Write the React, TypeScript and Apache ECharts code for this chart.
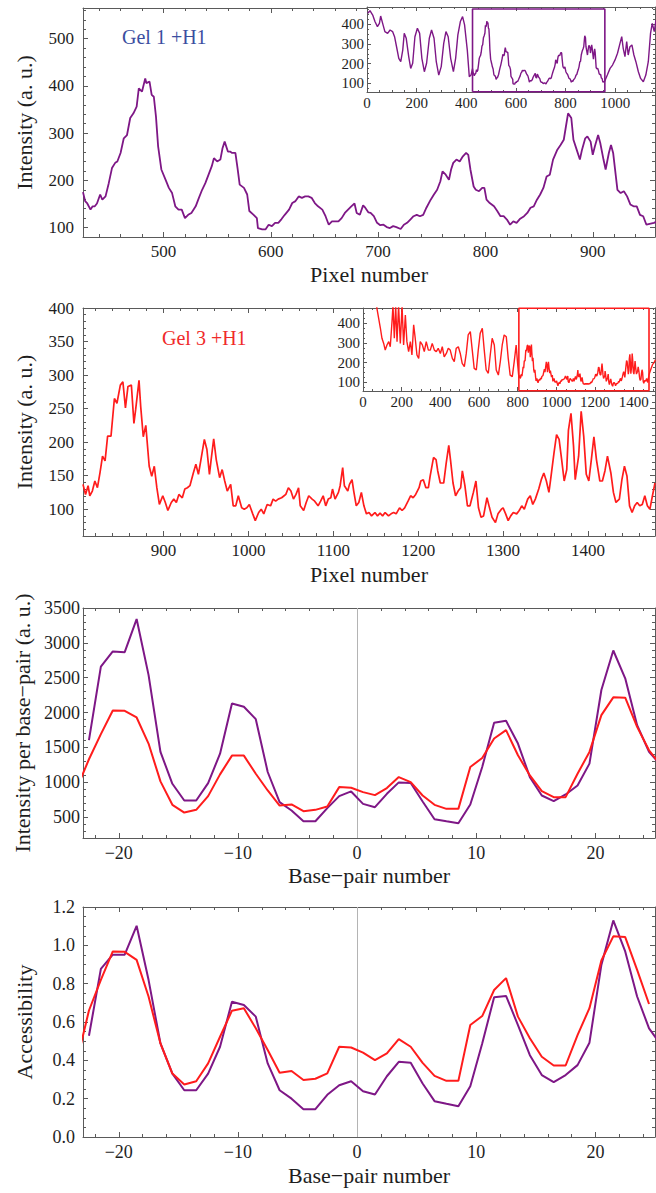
import React, { useEffect, useRef } from "react";
import * as echarts from "echarts";

const PURPLE = "#7e1786";
const RED = "#ff1c1c";
const FRAME = "#5a5a5a";
const TEXT = "#1e1e1e";
const SERIF = '"Liberation Serif", "Times New Roman", serif';

// ---- Gel 1 (+H1) trace, main window (pixel number, intensity) ----
const gel1Main: [number, number][] = [
  [425,175],[427,156],[429,151],[432,138],[434,145],[436,145],[438,151],[441,170],[443,159],[446,166],
  [449,194],[452,226],[455,237],[457,240],[460,258],[463,289],[466,296],[469,332],[472,342],[475,356],
  [477,395],[480,388],[483,416],[484,406],[487,409],[489,381],[491,377],[493,335],[495,272],[498,223],
  [502,201],[505,184],[508,173],[511,145],[514,138],[517,138],[520,120],[523,127],[526,131],[530,145],
  [533,163],[536,180],[539,194],[542,212],[545,230],[547,247],[550,240],[553,244],[555,268],[557,282],
  [560,261],[562,261],[564,258],[567,258],[569,226],[571,191],[575,184],[578,170],[580,135],[584,127],
  [587,120],[588,99],[592,96],[595,96],[598,106],[601,103],[604,110],[607,110],[610,118],[613,127],
  [617,138],[620,152],[623,156],[626,166],[629,163],[632,166],[635,166],[638,163],[641,152],[644,145],
  [648,138],[651,124],[654,106],[657,113],[660,113],[663,113],[666,120],[669,131],[672,138],[675,145],
  [678,151],[680,131],[683,127],[686,147],[688,142],[691,132],[693,131],[696,124],[699,110],[702,105],
  [705,106],[708,101],[711,99],[714,103],[717,101],[721,97],[724,106],[727,110],[730,117],[733,124],
  [736,127],[739,124],[742,127],[745,142],[749,159],[752,170],[755,180],[758,198],[760,219],[763,212],
  [766,201],[768,223],[770,237],[773,244],[776,240],[779,251],[782,258],[784,254],[786,223],[789,187],
  [791,180],[794,177],[797,184],[799,184],[801,159],[804,152],[808,145],[811,135],[814,124],[817,124],
  [820,117],[823,106],[826,113],[829,110],[832,118],[836,124],[839,131],[842,142],[845,145],[848,159],
  [851,170],[854,184],[857,208],[860,212],[863,244],[867,265],[870,275],[873,286],[875,314],[877,342],
  [880,332],[882,286],[885,265],[888,244],[890,265],[893,289],[895,293],[898,282],[900,254],[902,272],
  [905,296],[907,279],[910,244],[912,223],[915,258],[917,275],[919,258],[923,180],[926,173],[929,177],
  [932,166],[935,149],[938,145],[941,145],[944,127],[947,124],[950,106],[953,108],[957,110],[959,112],
];
// Gel 1 inset: full trace outside the main window
const gel1InsetLeft: [number, number][] = [
  [3,456],[12,469],[23,447],[32,414],[42,388],[50,405],[55,442],[63,405],[72,363],[83,354],
  [93,371],[103,363],[111,337],[119,286],[128,227],[136,210],[144,269],[150,354],[158,329],[168,236],
  [176,176],[184,202],[193,337],[203,380],[212,354],[221,227],[231,159],[240,202],[251,329],[260,371],
  [270,329],[279,210],[289,142],[299,185],[309,303],[318,363],[327,337],[337,227],[348,159],[357,227],
  [366,346],[376,414],[385,439],[393,397],[404,269],[412,134],[419,142],
];
const gel1InsetRight: [number, number][] = [
  [968,142],[979,176],[989,193],[999,219],[1009,253],[1019,303],[1026,337],[1032,278],[1039,236],
  [1046,312],[1052,244],[1059,286],[1067,295],[1075,244],[1083,210],[1093,159],[1102,125],[1113,108],
  [1123,142],[1133,210],[1142,354],[1149,405],[1157,363],[1164,422],
];

// ---- Gel 3 (+H1) trace, main window ----
const gel3Main: [number, number][] = [
  [805,137],[808,122],[811,135],[813,120],[816,127],[819,142],[822,132],[825,154],[828,179],[831,172],
  [834,209],[838,209],[842,265],[845,258],[849,285],[852,290],[855,251],[858,283],[862,285],[865,228],
  [867,248],[871,292],[873,253],[876,208],[879,225],[883,164],[886,149],[889,164],[892,132],[895,107],
  [899,120],[902,110],[905,98],[909,110],[912,115],[915,110],[918,122],[922,117],[925,130],[928,132],
  [931,135],[935,154],[938,167],[941,152],[944,174],[948,204],[951,189],[954,152],[956,174],[959,205],
  [962,174],[966,147],[969,159],[972,142],[975,127],[979,137],[982,105],[985,105],[988,120],[992,102],
  [995,100],[998,102],[1001,107],[1005,93],[1008,83],[1012,95],[1015,100],[1018,93],[1022,107],[1026,105],
  [1029,115],[1032,112],[1035,115],[1039,117],[1042,120],[1044,122],[1047,132],[1050,127],[1053,115],[1056,122],
  [1059,132],[1061,105],[1065,98],[1068,110],[1071,120],[1075,115],[1078,112],[1082,105],[1085,112],[1088,120],
  [1091,105],[1094,115],[1097,117],[1099,130],[1102,115],[1106,125],[1108,135],[1111,162],[1113,135],[1117,127],
  [1119,137],[1122,144],[1124,127],[1127,105],[1130,110],[1133,125],[1136,105],[1139,93],[1142,95],[1145,90],
  [1149,95],[1152,90],[1155,94],[1158,90],[1161,95],[1165,90],[1168,93],[1171,95],[1174,93],[1178,102],
  [1181,98],[1184,102],[1188,112],[1191,120],[1194,117],[1197,122],[1201,132],[1203,142],[1206,144],[1209,132],
  [1212,132],[1214,149],[1218,177],[1221,174],[1223,157],[1226,139],[1230,139],[1233,169],[1236,195],[1238,174],
  [1241,139],[1244,120],[1247,127],[1250,132],[1252,157],[1255,135],[1258,105],[1261,105],[1265,125],[1268,142],
  [1271,102],[1274,88],[1277,90],[1281,117],[1284,102],[1287,88],[1291,80],[1294,93],[1298,100],[1300,102],
  [1303,93],[1306,83],[1309,90],[1312,95],[1316,93],[1319,98],[1322,105],[1325,100],[1329,115],[1332,120],
  [1335,107],[1338,115],[1342,130],[1345,144],[1348,154],[1351,142],[1354,125],[1356,144],[1360,184],[1363,211],
  [1366,204],[1369,174],[1372,142],[1375,159],[1377,218],[1380,243],[1383,194],[1385,144],[1389,179],[1392,246],
  [1395,209],[1398,152],[1401,142],[1404,174],[1407,208],[1410,174],[1414,142],[1417,142],[1420,157],[1423,179],
  [1427,154],[1430,125],[1433,110],[1437,115],[1440,144],[1443,164],[1446,149],[1449,105],[1452,95],[1455,105],
  [1458,110],[1461,105],[1464,107],[1467,120],[1470,105],[1473,100],[1476,120],[1479,139],
];
const gel3InsetLeft: [number, number][] = [
  [70,500],[72,476],[81,425],[90,375],[98,324],[107,298],[115,264],[124,290],[133,307],[141,281],
  [150,408],[155,490],[162,324],[169,490],[176,307],[184,490],[193,298],[202,490],[210,290],[219,442],
  [227,307],[236,256],[245,307],[253,239],[262,392],[270,324],[279,239],[288,222],[296,307],[307,290],
  [317,256],[327,307],[338,264],[348,264],[358,298],[369,264],[379,256],[389,273],[400,247],[410,281],
  [420,230],[431,247],[441,273],[451,264],[462,222],[472,205],[482,273],[493,281],[503,247],[513,197],
  [524,180],[534,247],[544,341],[555,358],[565,264],[575,171],[586,163],[596,264],[606,349],[617,375],
  [627,264],[637,163],[648,146],[658,239],[668,324],[679,290],[689,163],[700,137],[710,205],[720,290],
  [730,341],[741,332],[751,222],[761,137],[772,129],[782,205],[792,290],[800,190],
];
const gel3InsetRight: [number, number][] = [[1488,165],[1497,190],[1505,200],[1512,215]];

// ---- per base-pair data ----
const basePairs = [
  -23.5,-22.5,-21.5,-20.5,-19.5,-18.5,-17.5,-16.5,-15.5,-14.5,-13.5,-12.5,-11.5,-10.5,-9.5,-8.5,-7.5,
  -6.5,-5.5,-4.5,-3.5,-2.5,-1.5,-0.5,0.5,1.5,2.5,3.5,4.5,5.5,6.5,7.5,8.5,9.5,10.5,11.5,12.5,13.5,14.5,
  15.5,16.5,17.5,18.5,19.5,20.5,21.5,22.5,23.5,24.5,25.5,
];
const intensityGel1: (number | null)[] = [
  null,1603,2660,2876,2866,3341,2540,1435,978,738,738,988,1410,2131,2083,1905,1147,
  714,594,440,440,628,801,868,690,642,834,998,988,724,469,440,412,681,1219,1853,1881,1555,1074,
  810,729,825,954,1267,2323,2890,2491,1819,1435,1245,
];
const intensityGel3: (number | null)[] = [
  920,1330,1690,2030,2025,1929,1555,1012,676,565,604,801,1113,1382,1382,1122,882,
  666,681,585,604,652,930,921,858,815,916,1074,1002,810,676,618,618,1219,1348,1627,1747,1387,1098,
  872,786,786,1122,1435,1963,2218,2213,1795,1459,1240,
];
const accessGel1: (number | null)[] = [
  null,0.528,0.877,0.951,0.951,1.102,0.82,0.488,0.331,0.244,0.244,0.331,0.471,0.706,0.689,0.628,0.384,
  0.244,0.2,0.145,0.145,0.22,0.27,0.291,0.239,0.222,0.317,0.392,0.387,0.279,0.187,0.173,0.16,0.265,0.488,0.729,0.736,0.584,0.427,
  0.323,0.286,0.323,0.375,0.492,0.898,1.13,0.968,0.733,0.567,0.48,
];
const accessGel3: (number | null)[] = [
  0.4,0.66,0.82,0.968,0.966,0.924,0.733,0.488,0.331,0.274,0.291,0.384,0.523,0.659,0.672,0.567,0.454,
  0.335,0.344,0.297,0.304,0.332,0.471,0.467,0.44,0.401,0.436,0.511,0.471,0.387,0.319,0.293,0.293,0.584,0.631,0.767,0.829,0.628,0.515,
  0.419,0.373,0.373,0.532,0.672,0.921,1.047,1.043,0.872,0.694,null,
];

// ---- tick labels ----
const ticksPixel1 = [500, 600, 700, 800, 900];
const ticksInt1 = [100, 200, 300, 400, 500];
const ticksPixel3 = [900, 1000, 1100, 1200, 1300, 1400];
const ticksInt3 = [100, 150, 200, 250, 300, 350, 400];
const ticksBp = [-20, -10, 0, 10, 20];
const ticksIntBp = [500, 1000, 1500, 2000, 2500, 3000, 3500];
const ticksAccess = [0, 0.2, 0.4, 0.6, 0.8, 1.0, 1.2];
const ticksInset1X = [0, 200, 400, 600, 800, 1000];
const ticksInset3X = [0, 200, 400, 600, 800, 1000, 1200, 1400];
const ticksInsetY = [100, 200, 300, 400];

function minorTicks(min: number, max: number, step: number, major: number[]): number[] {
  const out: number[] = [];
  const start = Math.ceil(min / step - 1e-9);
  const end = Math.floor(max / step + 1e-9);
  for (let k = start; k <= end; k++) {
    const v = Math.round(k * step * 1e6) / 1e6;
    if (!major.some((m) => Math.abs(m - v) < 1e-9)) out.push(v);
  }
  return out;
}

const minus = (v: number) => (v < 0 ? "\u2212" + Math.abs(v) : String(v));

type Spec = {
  grid: number;
  min: number;
  max: number;
  major: number[];
  minorStep: number;
  fmt?: (v: number) => string;
  name?: string;
  nameGap?: number;
  labelSize: number;
  labelMargin: number;
  majorLen: number;
  minorLen: number;
  z: number;
};

function makeAxes(dim: "x" | "y", s: Spec) {
  const sides = dim === "x" ? ["bottom", "top"] : ["left", "right"];
  const minor = minorTicks(s.min, s.max, s.minorStep, s.major);
  const build = (position: string, ticks: number[], len: number, line: boolean, label: boolean) => ({
    type: "value",
    gridIndex: s.grid,
    position,
    min: s.min,
    max: s.max,
    z: s.z,
    axisLine: { show: line, onZero: false, lineStyle: { color: FRAME, width: 1 } },
    axisTick: { show: true, inside: true, length: len, customValues: ticks, lineStyle: { color: FRAME, width: 1 } },
    axisLabel: label
      ? {
          show: true,
          customValues: s.major,
          formatter: s.fmt ? (v: number) => s.fmt!(v) : (v: number) => String(v),
          color: TEXT,
          fontFamily: SERIF,
          fontSize: s.labelSize,
          margin: s.labelMargin,
        }
      : { show: false },
    splitLine: { show: false },
    minorTick: { show: false },
    axisPointer: { show: false },
    name: label ? s.name : "",
    nameLocation: "middle",
    nameGap: s.nameGap ?? 20,
    nameTextStyle: { color: TEXT, fontFamily: SERIF, fontSize: 22 },
  });
  return [
    build(sides[0], s.major, s.majorLen, true, true),
    build(sides[0], minor, s.minorLen, false, false),
    build(sides[1], s.major, s.majorLen, true, false),
    build(sides[1], minor, s.minorLen, false, false),
  ];
}

const toPairs = (xs: number[], ys: (number | null)[]) =>
  xs.map((x, i) => [x, ys[i] === null ? "-" : ys[i]]);

export default function App() {
  const ref = useRef<HTMLDivElement>(null);
  useEffect(() => {
    if (!ref.current) return;
    const chart = echarts.init(ref.current, undefined, { renderer: "svg" });

    const grids = [
      { left: 83, top: 8, width: 572, height: 229 },
      { left: 83, top: 308, width: 572, height: 228 },
      { left: 83, top: 608, width: 572, height: 230 },
      { left: 83, top: 907, width: 572, height: 230 },
      { left: 367, top: 7, width: 288, height: 85, show: true, backgroundColor: "#fff", borderWidth: 0, z: 3 },
      { left: 363, top: 308, width: 292, height: 83, show: true, backgroundColor: "#fff", borderWidth: 0, z: 3 },
    ];

    const top = { labelSize: 17, majorLen: 5, minorLen: 3, z: 0 };
    const low = { labelSize: 18, majorLen: 5, minorLen: 3, z: 0 };
    const inset = { labelSize: 15, majorLen: 4, minorLen: 2, z: 4 };

    const xSpecs: Spec[] = [
      { grid: 0, min: 425, max: 958, major: ticksPixel1, minorStep: 20, name: "Pixel number", nameGap: 26, labelMargin: 6, ...top },
      { grid: 1, min: 805, max: 1479, major: ticksPixel3, minorStep: 20, name: "Pixel number", nameGap: 27, labelMargin: 6, ...top },
      { grid: 2, min: -23, max: 25, major: ticksBp, minorStep: 2, fmt: minus, name: "Base\u2212pair number", nameGap: 26, labelMargin: 6, ...low },
      { grid: 3, min: -23, max: 25, major: ticksBp, minorStep: 2, fmt: minus, name: "Base\u2212pair number", nameGap: 27, labelMargin: 6, ...low },
      { grid: 4, min: 0, max: 1160, major: ticksInset1X, minorStep: 50, labelMargin: 3, ...inset },
      { grid: 5, min: 0, max: 1510, major: ticksInset3X, minorStep: 50, labelMargin: 3, ...inset },
    ];
    const ySpecs: Spec[] = [
      { grid: 0, min: 80, max: 565, major: ticksInt1, minorStep: 20, name: "Intensity (a. u.)", nameGap: 48, labelMargin: 9, ...top },
      { grid: 1, min: 60, max: 400, major: ticksInt3, minorStep: 10, name: "Intensity (a. u.)", nameGap: 48, labelMargin: 9, ...top },
      { grid: 2, min: 200, max: 3500, major: ticksIntBp, minorStep: 100, name: "Intensity per base\u2212pair (a. u.)", nameGap: 48, labelMargin: 3, ...low },
      { grid: 3, min: 0, max: 1.2, major: ticksAccess, minorStep: 0.05, fmt: (v: number) => v.toFixed(1), name: "Accessibility", nameGap: 48, labelMargin: 8, ...low },
      { grid: 4, min: 56, max: 488, major: ticksInsetY, minorStep: 25, labelMargin: 3, ...inset },
      { grid: 5, min: 56, max: 478, major: ticksInsetY, minorStep: 25, labelMargin: 3, ...inset },
    ];

    const xAxis: any[] = [];
    const yAxis: any[] = [];
    const xIdx: number[] = [];
    const yIdx: number[] = [];
    xSpecs.forEach((s) => { xIdx.push(xAxis.length); xAxis.push(...makeAxes("x", s)); });
    ySpecs.forEach((s) => { yIdx.push(yAxis.length); yAxis.push(...makeAxes("y", s)); });

    const line = (g: number, data: any[], color: string, width: number, z = 2, extra: any = {}) => ({
      type: "line",
      xAxisIndex: xIdx[g],
      yAxisIndex: yIdx[g],
      data,
      showSymbol: false,
      symbol: "none",
      silent: true,
      z,
      lineStyle: { color, width },
      itemStyle: { color },
      ...extra,
    });

    const zeroLine = {
      markLine: {
        silent: true,
        z: 1,
        symbol: ["none", "none"],
        label: { show: false },
        lineStyle: { color: "#b4b4b4", width: 1, type: "solid" },
        data: [{ xAxis: 0 }],
      },
    };

    const inset1Trace = [...gel1InsetLeft, ...gel1Main, ...gel1InsetRight];
    const inset3Trace = [...gel3InsetLeft, ...gel3Main, ...gel3InsetRight];
    const gel1Window = [425, 958];
    const gel3Window = [806, 1479];

    const series: any[] = [
      line(0, gel1Main, PURPLE, 1.8),
      line(1, gel3Main, RED, 1.7),
      line(2, toPairs(basePairs, intensityGel1), PURPLE, 2, 2, zeroLine),
      line(2, toPairs(basePairs, intensityGel3), RED, 2),
      line(3, toPairs(basePairs, accessGel1), PURPLE, 2, 2, zeroLine),
      line(3, toPairs(basePairs, accessGel3), RED, 2),
      line(4, inset1Trace, PURPLE, 1.4, 5),
      line(4, [[gel1Window[0], 57], [gel1Window[0], 478], [gel1Window[1], 478], [gel1Window[1], 57], [gel1Window[0], 57]], PURPLE, 1.6, 6, { clip: false }),
      line(5, inset3Trace, RED, 1.4, 5),
      line(5, [[gel3Window[0], 57], [gel3Window[0], 477], [gel3Window[1], 477], [gel3Window[1], 57], [gel3Window[0], 57]], RED, 1.6, 6, { clip: false }),
    ];

    chart.setOption({
      animation: false,
      backgroundColor: "#fff",
      grid: grids,
      xAxis,
      yAxis,
      series,
      graphic: [
        { type: "text", left: 122, top: 27, z: 10, style: { text: "Gel 1 +H1", fill: "#3b4ea0", fontSize: 20, fontFamily: SERIF } },
        { type: "text", left: 162, top: 328, z: 10, style: { text: "Gel 3 +H1", fill: "#f02a2a", fontSize: 20, fontFamily: SERIF } },
      ],
    });
    return () => chart.dispose();
  }, []);

  return (
    <div
      ref={ref}
      style={{ position: "absolute", left: 0, top: 0, width: 656, height: 1193, background: "#fff" }}
    />
  );
}
